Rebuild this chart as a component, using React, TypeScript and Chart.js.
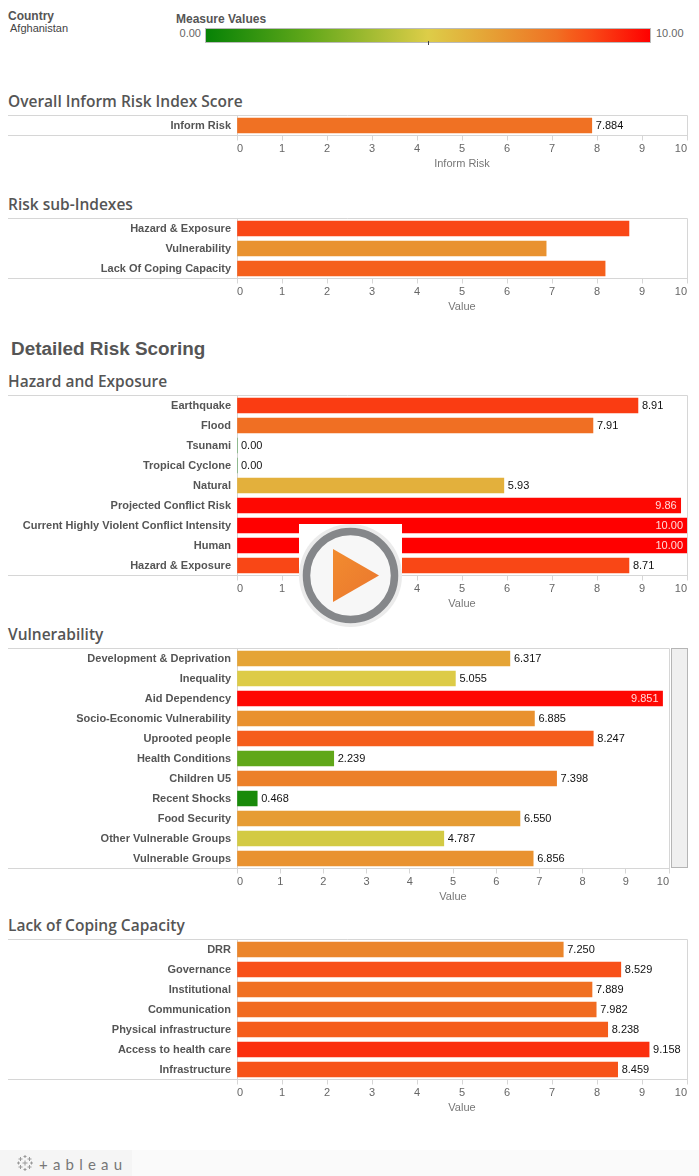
import React, { useEffect, useRef } from "react";
import { Chart, registerables } from "chart.js";

Chart.register(...registerables);

const FONT = "'Liberation Sans', Arial, sans-serif";
const TITLE_FONT = "'Open Sans', sans-serif";
const LINE = "#d6d6d6";

const informLabels = ["Inform Risk"];
const informValues = [7.884];

const subLabels = ["Hazard & Exposure", "Vulnerability", "Lack Of Coping Capacity"];
const subValues = [8.71, 6.87, 8.18];

const hazardLabels = [
  "Earthquake", "Flood", "Tsunami", "Tropical Cyclone", "Natural", "Projected Conflict Risk",
  "Current Highly Violent Conflict Intensity", "Human", "Hazard & Exposure",
];
const hazardValues = [8.91, 7.91, 0, 0, 5.93, 9.86, 10, 10, 8.71];

const vulnLabels = [
  "Development & Deprivation", "Inequality", "Aid Dependency", "Socio-Economic Vulnerability",
  "Uprooted people", "Health Conditions", "Children U5", "Recent Shocks", "Food Security",
  "Other Vulnerable Groups", "Vulnerable Groups",
];
const vulnValues = [6.317, 5.055, 9.851, 6.885, 8.247, 2.239, 7.398, 0.468, 6.55, 4.787, 6.856];

const copingLabels = [
  "DRR", "Governance", "Institutional", "Communication", "Physical infrastructure",
  "Access to health care", "Infrastructure",
];
const copingValues = [7.25, 8.529, 7.889, 7.982, 8.238, 9.158, 8.459];

const colorStops: [number, number[]][] = [
  [0, [6, 130, 6]],
  [2.3, [98, 168, 26]],
  [5, [221, 205, 72]],
  [6.5, [230, 158, 52]],
  [7.9, [240, 112, 35]],
  [8.2, [245, 95, 28]],
  [8.7, [249, 72, 22]],
  [10, [255, 0, 0]],
];

function colorFor(v: number): string {
  for (let i = 1; i < colorStops.length; i++) {
    const [b, cb] = colorStops[i];
    const [a, ca] = colorStops[i - 1];
    if (v <= b) {
      const t = (v - a) / (b - a);
      const c = ca.map((x, k) => Math.round(x + (cb[k] - x) * t));
      return `rgb(${c[0]},${c[1]},${c[2]})`;
    }
  }
  return "rgb(255,0,0)";
}

const gradientCss = `linear-gradient(to right, ${colorStops
  .map(([v, c]) => `rgb(${c[0]},${c[1]},${c[2]}) ${v * 10}%`)
  .join(", ")})`;

const framePlugin = {
  id: "frame",
  beforeDatasetsDraw(chart: any) {
    const { ctx, chartArea } = chart;
    const t = Math.floor(chartArea.top) + 0.5;
    const b = Math.floor(chartArea.bottom) + 0.5;
    const r = Math.round(chartArea.right) + 0.5;
    ctx.save();
    ctx.strokeStyle = LINE;
    ctx.lineWidth = 1;
    ctx.beginPath();
    ctx.moveTo(0, t);
    ctx.lineTo(r, t);
    ctx.lineTo(r, b);
    ctx.moveTo(0, b);
    ctx.lineTo(chartArea.left, b);
    ctx.stroke();
    ctx.restore();
  },
};

const valuePlugin = {
  id: "valueLabels",
  afterDatasetsDraw(chart: any, _a: any, opts: any) {
    if (opts.decimals == null) return;
    const { ctx } = chart;
    const xs = chart.scales.x;
    const ys = chart.scales.y;
    ctx.save();
    ctx.font = `11px ${FONT}`;
    ctx.textBaseline = "middle";
    chart.data.datasets[0].data.forEach((v: number, i: number) => {
      const text = v.toFixed(opts.decimals);
      const x = xs.getPixelForValue(v);
      const y = ys.getPixelForValue(i);
      if (v >= 9.8) {
        ctx.textAlign = "right";
        ctx.fillStyle = "rgba(255,255,255,0.85)";
        ctx.fillText(text, x - 4, y);
      } else {
        ctx.textAlign = "left";
        ctx.fillStyle = "#111";
        ctx.fillText(text, x + 4, y);
      }
    });
    ctx.restore();
  },
};

function Panel(props: {
  labels: string[];
  values: number[];
  top: number;
  right: number;
  axisTitle: string;
  decimals?: number;
}) {
  const { labels, values, top, right, axisTitle, decimals } = props;
  const ref = useRef<HTMLCanvasElement>(null);
  const left = 8;
  const height = labels.length * 20 + 36;
  const width = right - left + 1;
  useEffect(() => {
    const chart = new Chart(ref.current as HTMLCanvasElement, {
      type: "bar",
      data: {
        labels,
        datasets: [{
          data: values,
          backgroundColor: values.map(colorFor),
          barThickness: 15,
          borderWidth: 0,
        }],
      },
      plugins: [framePlugin, valuePlugin],
      options: {
        indexAxis: "y",
        animation: false,
        responsive: false,
        devicePixelRatio: 1,
        layout: { padding: { top: 0.5, right: 1, left: 0, bottom: 0 } },
        plugins: {
          legend: { display: false },
          tooltip: { enabled: false },
          valueLabels: { decimals },
        } as any,
        scales: {
          x: {
            type: "linear",
            min: 0,
            max: 10,
            afterFit: (s: any) => {
              s.height = 35.5;
              s.paddingLeft = 0;
              s.paddingRight = 0;
            },
            border: { display: true, color: LINE },
            grid: { display: true, drawOnChartArea: false, drawTicks: true, tickLength: 5, color: LINE },
            ticks: {
              stepSize: 1,
              align: "inner",
              maxRotation: 0,
              padding: 2,
              color: "#666",
              font: { family: FONT, size: 11 },
            },
            title: {
              display: true,
              text: axisTitle,
              color: "#777",
              padding: 0,
              font: { family: FONT, size: 11 },
            },
          },
          y: {
            type: "category",
            afterFit: (s: any) => {
              s.width = 229;
              s.paddingTop = 0;
              s.paddingBottom = 0;
            },
            border: { display: true, color: LINE },
            grid: { display: false, drawTicks: false },
            ticks: {
              autoSkip: false,
              padding: 6,
              color: "#555",
              font: { family: FONT, size: 11, weight: "bold" },
            },
          },
        },
      } as any,
    });
    return () => chart.destroy();
  }, []);
  return (
    <canvas
      ref={ref}
      width={width}
      height={height}
      style={{ position: "absolute", left, top, width, height, display: "block" }}
    />
  );
}

function Text(props: { x: number; y: number; size: number; children: string; color?: string; bold?: boolean; weight?: number; family?: string; spacing?: number; right?: boolean }) {
  const { x, y, size, children, color, bold, weight, family, spacing, right } = props;
  return (
    <div
      style={{
        position: "absolute",
        ...(right ? { right: 699 - x } : { left: x }),
        top: y,
        transform: "translateY(-50%)",
        fontSize: size,
        lineHeight: 1.2,
        whiteSpace: "nowrap",
        color: color || "#555",
        fontWeight: weight || (bold ? "bold" : "normal"),
        fontFamily: family || FONT,
        letterSpacing: spacing,
      }}
    >
      {children}
    </div>
  );
}

function Logo() {
  const crosses = [
    [8, 8, 2.5], [8, 1.5, 1.5], [8, 14.5, 1.5], [1.5, 8, 1.5], [14.5, 8, 1.5],
    [3.5, 4, 2], [12.5, 4, 2], [3.5, 12, 2], [12.5, 12, 2],
  ];
  return (
    <svg width="16" height="16" style={{ position: "absolute", left: 17, top: 1155 }}>
      {crosses.map(([x, y, r], i) => (
        <path key={i} d={`M${x - r} ${y}H${x + r}M${x} ${y - r}V${y + r}`} stroke="#999" strokeWidth="1" fill="none" />
      ))}
    </svg>
  );
}

function PlayButton() {
  return (
    <svg width="103" height="103" style={{ position: "absolute", left: 299, top: 524 }}>
      <defs>
        <linearGradient id="pg" x1="0" y1="0" x2="1" y2="1">
          <stop offset="0" stopColor="#f28c2f" />
          <stop offset="1" stopColor="#ea762e" />
        </linearGradient>
      </defs>
      <rect width="103" height="103" fill="#fff" />
      <circle cx="51.5" cy="51.5" r="51.5" fill="#ebebeb" />
      <circle cx="51.5" cy="51.5" r="44" fill="#f7f7f7" stroke="#85878a" strokeWidth="7.5" />
      <path d="M34 25 L80 51.5 L34 78 Z" fill="url(#pg)" />
    </svg>
  );
}

export default function App() {
  useEffect(() => {
    document.body.style.margin = "0";
  }, []);
  return (
    <div style={{ position: "absolute", left: 0, top: 0, width: 699, height: 1176, overflow: "hidden", background: "#fff" }}>
      <Text x={8} y={16} size={12} bold>Country</Text>
      <Text x={10} y={29} size={11} color="#444">Afghanistan</Text>
      <Text x={176} y={19} size={12} bold>Measure Values</Text>
      <Text x={201} y={34} size={11} color="#666" right>0.00</Text>
      <Text x={656} y={34} size={11} color="#666">10.00</Text>
      <div style={{ position: "absolute", left: 205, top: 28, width: 446, height: 15, boxSizing: "border-box", border: "1px solid #bbb", background: gradientCss }} />
      <div style={{ position: "absolute", left: 428, top: 41, width: 1, height: 4, background: "#444" }} />

      <Text x={8} y={101} size={15.5} weight={600} family={TITLE_FONT}>Overall Inform Risk Index Score</Text>
      <Panel labels={informLabels} values={informValues} top={115} right={687} axisTitle="Inform Risk" decimals={3} />

      <Text x={8} y={204} size={15.5} weight={600} family={TITLE_FONT}>Risk sub-Indexes</Text>
      <Panel labels={subLabels} values={subValues} top={218} right={687} axisTitle="Value" />

      <Text x={11} y={349} size={18.9} bold>Detailed Risk Scoring</Text>

      <Text x={8} y={381} size={15.5} weight={600} family={TITLE_FONT}>Hazard and Exposure</Text>
      <Panel labels={hazardLabels} values={hazardValues} top={395} right={687} axisTitle="Value" decimals={2} />

      <Text x={8} y={634} size={15.5} weight={600} family={TITLE_FONT}>Vulnerability</Text>
      <Panel labels={vulnLabels} values={vulnValues} top={648} right={669} axisTitle="Value" decimals={3} />
      <div style={{ position: "absolute", left: 671, top: 648, width: 17, height: 220, boxSizing: "border-box", background: "#efefef", border: "1px solid #b5b5b5" }} />

      <Text x={8} y={925} size={15.5} weight={600} family={TITLE_FONT}>Lack of Coping Capacity</Text>
      <Panel labels={copingLabels} values={copingValues} top={939} right={687} axisTitle="Value" decimals={3} />

      <PlayButton />

      <div style={{ position: "absolute", left: 0, top: 1150, width: 699, height: 26, background: "#fafafa" }} />
      <div style={{ position: "absolute", left: 0, top: 1150, width: 132, height: 26, background: "#f5f5f5" }} />
      <Logo />
      <Text x={39} y={1164} size={15} color="#777" family="Lato, sans-serif" spacing={5.2}>+ableau</Text>
    </div>
  );
}
